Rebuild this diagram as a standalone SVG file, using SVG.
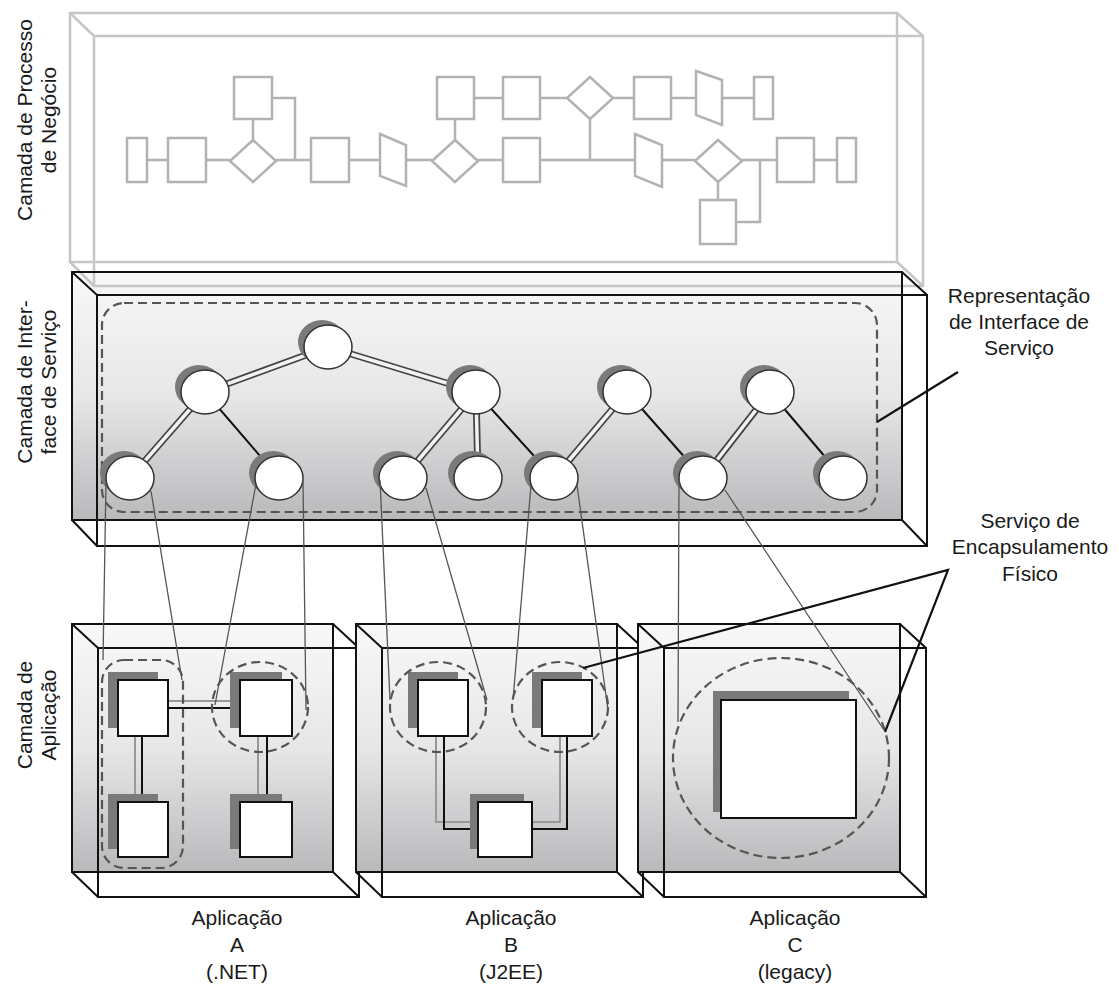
<svg xmlns="http://www.w3.org/2000/svg" width="1119" height="986" viewBox="0 0 1119 986">
<defs>
<linearGradient id="g" x1="0" y1="0" x2="0" y2="1">
<stop offset="0" stop-color="#f8f8f8"/>
<stop offset="0.5" stop-color="#e7e7e8"/>
<stop offset="1" stop-color="#b9b9bc"/>
</linearGradient>
</defs>
<style>
.t{font-family:"Liberation Sans",Arial,sans-serif;font-size:21px;fill:#1a1a1a}
.bx{fill:none;stroke:#111;stroke-width:2}
.tb{fill:none;stroke:#c6c6c6;stroke-width:2.5}
.pr{fill:#fff;stroke:#b2b2b2;stroke-width:2.5}
.pl{fill:none;stroke:#b2b2b2;stroke-width:2.5}
.dash{fill:none;stroke:#555;stroke-width:2.2;stroke-dasharray:9 5}
.sh{fill:#7a7a7a}
.el{fill:#fff;stroke:#333;stroke-width:1.5}
.sq{fill:#fff;stroke:#111;stroke-width:2}
.pipeo{stroke:#444;stroke-width:7;fill:none}
.pipei{stroke:#f2f2f2;stroke-width:3.5;fill:none}
.one{stroke:#111;stroke-width:2;fill:none}
.gl{stroke:#999;stroke-width:2;fill:none}
.cn{stroke:#555;stroke-width:1.3;fill:none}
.co{stroke:#111;stroke-width:2.2;fill:none}
</style>
<rect x="0" y="0" width="1119" height="986" fill="#fff"/>

<!-- Service layer fill -->
<rect x="72" y="272" width="830" height="248" fill="url(#g)"/>

<!-- Business process layer -->
<g id="business-layer">
  <rect class="tb" x="70" y="13" width="827" height="249"/>
  <rect class="tb" x="94" y="36" width="829" height="250"/>
  <path class="tb" d="M70 13L94 36M897 13L923 36M897 262L923 286M70 262L94 286"/>
  <g id="process-flow">
    <path class="pl" d="M147 160H168M206 160H230M276 160H311M349 160H380M406 160H432M478 160H503M540 160H635M662 160H695M742 160H777M814 160H837"/>
    <path class="pl" d="M253 119V140M272 98H295V160M455 119V140M474 98H503M540 98H567M613 98H634M671 98H696M722 98H754M590 119V160M718 182V200M736 222H760V160"/>
    <rect class="pr" x="127" y="138" width="20" height="44"/>
    <rect class="pr" x="168" y="138" width="38" height="44"/>
    <polygon class="pr" points="253,140 276,161 253,182 230,161"/>
    <rect class="pr" x="311" y="138" width="38" height="44"/>
    <polygon class="pr" points="380,134 406,145 406,186 380,176"/>
    <polygon class="pr" points="455,140 478,161 455,182 432,161"/>
    <rect class="pr" x="503" y="138" width="37" height="44"/>
    <polygon class="pr" points="635,134 662,145 662,187 635,176"/>
    <polygon class="pr" points="718,140 742,161 718,182 695,161"/>
    <rect class="pr" x="777" y="138" width="37" height="44"/>
    <rect class="pr" x="837" y="138" width="19" height="44"/>
    <rect class="pr" x="234" y="77" width="38" height="42"/>
    <rect class="pr" x="437" y="77" width="37" height="42"/>
    <rect class="pr" x="503" y="77" width="37" height="42"/>
    <polygon class="pr" points="590,77 613,98 590,119 567,98"/>
    <rect class="pr" x="634" y="77" width="37" height="42"/>
    <polygon class="pr" points="696,71 722,80 722,125 696,115"/>
    <rect class="pr" x="754" y="77" width="19" height="42"/>
    <rect class="pr" x="700" y="200" width="36" height="44"/>
  </g>
</g>

<!-- Service interface layer -->
<g id="service-layer">
  <rect class="bx" x="72" y="272" width="830" height="248"/>
  <rect class="bx" x="97" y="295" width="830" height="251"/>
  <path class="bx" d="M72 272L97 295M902 272L927 295M902 520L927 546M72 520L97 546"/>
  <rect id="service-interface-boundary" class="dash" x="102" y="303" width="775" height="209" rx="22"/>
</g>

<g id="service-edges">
  <path class="pipeo" d="M328 347L205 392M328 347L476 392M205 392L130 478M476 392L403 478M476 392L478 478M627 392L554 478M770 392L703 478"/>
  <path class="pipei" d="M328 347L205 392M328 347L476 392M205 392L130 478M476 392L403 478M476 392L478 478M627 392L554 478M770 392L703 478"/>
  <path class="one" d="M205 392L279 478M476 392L554 478M627 392L703 478M770 392L843 478"/>
</g>

<g id="s-top"><ellipse class="sh" cx="322" cy="342" rx="24" ry="22"/><ellipse class="el" cx="328" cy="347" rx="24" ry="22"/></g>
<g id="s-l2a"><ellipse class="sh" cx="199" cy="387" rx="24" ry="22"/><ellipse class="el" cx="205" cy="392" rx="24" ry="22"/></g>
<g id="s-l2b"><ellipse class="sh" cx="470" cy="387" rx="24" ry="22"/><ellipse class="el" cx="476" cy="392" rx="24" ry="22"/></g>
<g id="s-l2c"><ellipse class="sh" cx="621" cy="387" rx="24" ry="22"/><ellipse class="el" cx="627" cy="392" rx="24" ry="22"/></g>
<g id="s-l2d"><ellipse class="sh" cx="764" cy="387" rx="24" ry="22"/><ellipse class="el" cx="770" cy="392" rx="24" ry="22"/></g>
<g id="s-l3a"><ellipse class="sh" cx="124" cy="473" rx="24" ry="22"/><ellipse class="el" cx="130" cy="478" rx="24" ry="22"/></g>
<g id="s-l3b"><ellipse class="sh" cx="273" cy="473" rx="24" ry="22"/><ellipse class="el" cx="279" cy="478" rx="24" ry="22"/></g>
<g id="s-l3c"><ellipse class="sh" cx="397" cy="473" rx="24" ry="22"/><ellipse class="el" cx="403" cy="478" rx="24" ry="22"/></g>
<g id="s-l3d"><ellipse class="sh" cx="472" cy="473" rx="24" ry="22"/><ellipse class="el" cx="478" cy="478" rx="24" ry="22"/></g>
<g id="s-l3e"><ellipse class="sh" cx="548" cy="473" rx="24" ry="22"/><ellipse class="el" cx="554" cy="478" rx="24" ry="22"/></g>
<g id="s-l3f"><ellipse class="sh" cx="697" cy="473" rx="24" ry="22"/><ellipse class="el" cx="703" cy="478" rx="24" ry="22"/></g>
<g id="s-l3g"><ellipse class="sh" cx="837" cy="473" rx="24" ry="22"/><ellipse class="el" cx="843" cy="478" rx="24" ry="22"/></g>

<!-- Application A -->
<g id="app-a">
  <rect x="72" y="624" width="261" height="248" fill="url(#g)"/>
  <rect class="bx" x="72" y="624" width="261" height="248"/>
  <rect class="bx" x="98" y="648" width="261" height="249"/>
  <path class="bx" d="M72 624L98 648M333 624L359 648M333 872L359 897M72 872L98 897"/>
  <path class="gl" d="M168 701H240M135 736V802M258 736V802"/>
  <path class="one" d="M168 708H240M142 736V802M267 736V802"/>
  <rect class="sh" x="108" y="672" width="50" height="56"/><rect class="sq" x="118" y="680" width="50" height="56"/>
  <rect class="sh" x="230" y="672" width="52" height="56"/><rect class="sq" x="240" y="680" width="52" height="56"/>
  <rect class="sh" x="108" y="794" width="50" height="55"/><rect class="sq" x="118" y="802" width="50" height="55"/>
  <rect class="sh" x="230" y="794" width="52" height="55"/><rect class="sq" x="240" y="802" width="52" height="55"/>
  <rect class="dash" x="102" y="660" width="81" height="208" rx="22"/>
  <ellipse class="dash" cx="260" cy="707" rx="48" ry="45"/>
</g>

<!-- Application B -->
<g id="app-b">
  <rect x="356" y="624" width="261" height="248" fill="url(#g)"/>
  <rect class="bx" x="356" y="624" width="261" height="248"/>
  <rect class="bx" x="382" y="648" width="261" height="249"/>
  <path class="bx" d="M356 624L382 648M617 624L643 648M617 872L643 897M356 872L382 897"/>
  <path class="gl" d="M436 736V822H478M560 736V822H532"/>
  <path class="one" d="M444 736V829H478M567 736V829H532"/>
  <rect class="sh" x="408" y="672" width="50" height="56"/><rect class="sq" x="418" y="680" width="50" height="56"/>
  <rect class="sh" x="532" y="672" width="50" height="56"/><rect class="sq" x="542" y="680" width="50" height="56"/>
  <rect class="sh" x="470" y="794" width="54" height="55"/><rect class="sq" x="478" y="802" width="54" height="55"/>
  <ellipse class="dash" cx="438" cy="707" rx="48" ry="45"/>
  <ellipse class="dash" cx="560" cy="707" rx="48" ry="45"/>
</g>

<!-- Application C -->
<g id="app-c">
  <rect x="638" y="624" width="262" height="248" fill="url(#g)"/>
  <rect class="bx" x="638" y="624" width="262" height="248"/>
  <rect class="bx" x="664" y="648" width="262" height="249"/>
  <path class="bx" d="M638 624L664 648M900 624L926 648M900 872L926 897M638 872L664 897"/>
  <rect class="sh" x="713" y="691" width="136" height="121"/><rect class="sq" x="721" y="700" width="135" height="118"/>
  <ellipse class="dash" cx="781" cy="758" rx="108" ry="100"/>
</g>

<!-- Connectors between layers -->
<g id="connectors">
  <path class="cn" d="M106 482L103 660M151 491L182 680M256 484L215 705M303 480L306 710M380 480L390 700M426 488L487 700M531 485L513 700M577 485L608 710M679 480L678 722M725 490L884 730"/>
  <path class="co" d="M877 422L958 372"/>
  <path class="co" d="M583 668L948 570L885 732"/>
</g>

<!-- Labels -->
<g id="labels">
  <text class="t" text-anchor="middle" transform="translate(0,120) rotate(-90)"><tspan x="0" y="32">Camada de Processo</tspan><tspan x="0" y="56">de Negócio</tspan></text>
  <text class="t" text-anchor="middle" transform="translate(0,382) rotate(-90)"><tspan x="0" y="32">Camada de Inter-</tspan><tspan x="0" y="56">face de Serviço</tspan></text>
  <text class="t" text-anchor="middle" transform="translate(0,715) rotate(-90)"><tspan x="0" y="32">Camada de</tspan><tspan x="0" y="56">Aplicação</tspan></text>
  <text class="t" text-anchor="middle"><tspan x="1019" y="303">Representação</tspan><tspan x="1019" y="329">de Interface de</tspan><tspan x="1019" y="355">Serviço</tspan></text>
  <text class="t" text-anchor="middle"><tspan x="1030" y="528">Serviço de</tspan><tspan x="1030" y="554">Encapsulamento</tspan><tspan x="1030" y="581">Físico</tspan></text>
  <text class="t" text-anchor="middle"><tspan x="237" y="925">Aplicação</tspan><tspan x="237" y="952">A</tspan><tspan x="237" y="979">(.NET)</tspan></text>
  <text class="t" text-anchor="middle"><tspan x="511" y="925">Aplicação</tspan><tspan x="511" y="952">B</tspan><tspan x="511" y="979">(J2EE)</tspan></text>
  <text class="t" text-anchor="middle"><tspan x="795" y="925">Aplicação</tspan><tspan x="795" y="952">C</tspan><tspan x="795" y="979">(legacy)</tspan></text>
</g>
</svg>
